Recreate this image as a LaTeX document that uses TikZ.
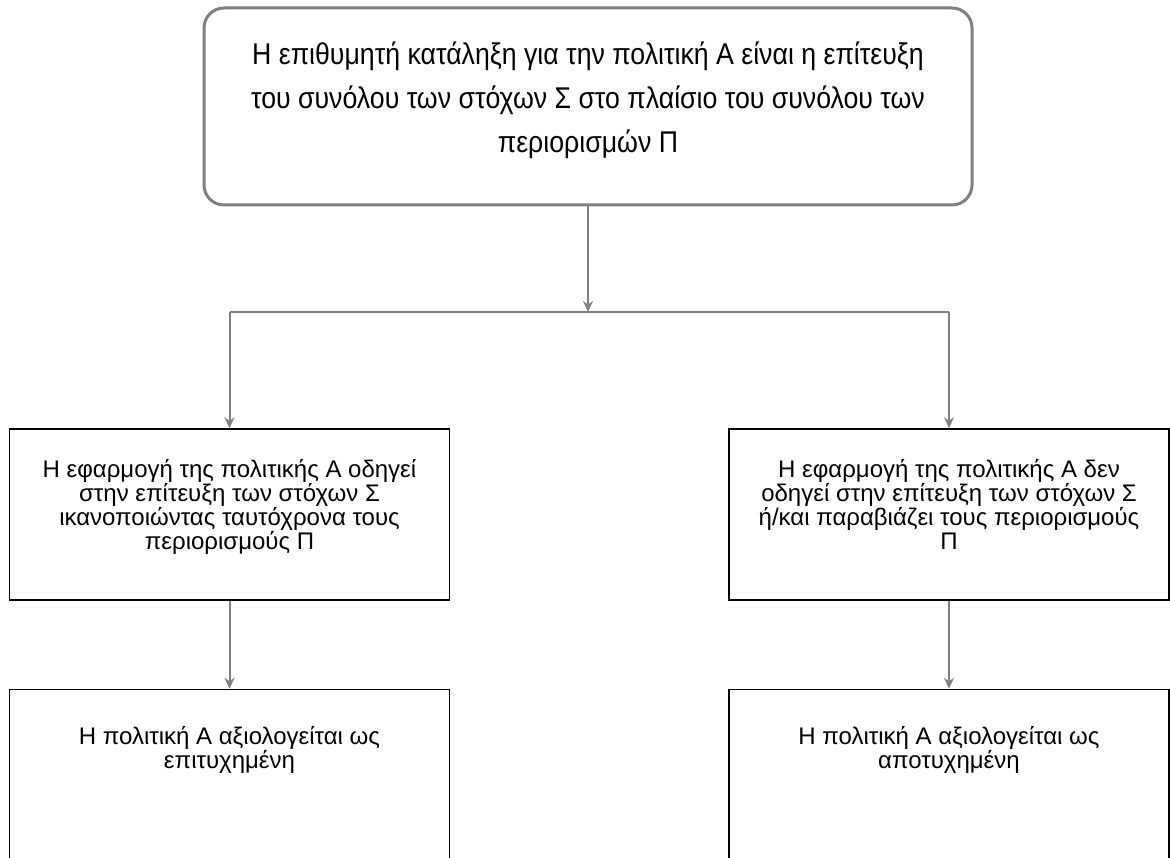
\documentclass[tikz,border=0pt]{standalone}
\usepackage{fontspec}
\setmainfont{Liberation Sans}
\newfontfamily\narrowsans[FakeStretch=0.89]{Liberation Sans}
\usetikzlibrary{positioning, arrows.meta}
\tikzset{
  goalBox/.style={rectangle, rounded corners=20pt, draw=gray, line width=3pt, minimum width=768pt, minimum height=197pt, align=center, font=\narrowsans\fontsize{30}{44}\selectfont, text depth=18pt, inner sep=0pt},
  caseBox/.style={rectangle, draw=black, line width=1.5pt, minimum width=440pt, minimum height=171pt, align=center, font=\fontsize{24}{24}\selectfont, text depth=20pt, inner sep=0pt},
  evalBox/.style={rectangle, draw=black, line width=1.5pt, minimum width=440pt, minimum height=260pt},
  evalText/.style={align=center, font=\fontsize{24}{24}\selectfont, inner sep=0pt},
  linkArr/.style={draw=gray, line width=2pt, -{Stealth[length=11pt,width=10pt]}},
}
\begin{document}
\begin{tikzpicture}[x=1pt, y=-1pt]
\useasboundingbox (0,0) rectangle (1170,858);
\clip (0,0) rectangle (1170,858);

\node (goal) [goalBox] at (588,106.5) {Η επιθυμητή κατάληξη για την πολιτική Α είναι η επίτευξη\\του συνόλου των στόχων Σ στο πλαίσιο του συνόλου των\\περιορισμών Π};

% the two outcomes
\node (success) [caseBox] at (229.5,514.5) {Η εφαρμογή της πολιτικής Α οδηγεί\\στην επίτευξη των στόχων Σ\\ικανοποιώντας ταυτόχρονα τους\\περιορισμούς Π};
\node (failure) [caseBox] at (949,514.5) {Η εφαρμογή της πολιτικής Α δεν\\οδηγεί στην επίτευξη των στόχων Σ\\ή/και παραβιάζει τους περιορισμούς\\Π};

% evaluation (boxes run past the lower edge)
\node (passBox) [evalBox, below=88pt of success] {};
\node (failBox) [evalBox, below=88pt of failure] {};
\node (passText) [evalText, below=37pt of passBox.north] {Η πολιτική Α αξιολογείται ως\\επιτυχημένη};
\node (failText) [evalText, below=37pt of failBox.north] {Η πολιτική Α αξιολογείται ως\\αποτυχημένη};

\coordinate (fork) at (goal |- 0,312);
\coordinate (forkL) at (success |- fork);
\coordinate (forkR) at (failure |- fork);

\draw [linkArr] (goal) -- (fork);
\draw [draw=gray, line width=2pt] (forkL) -- (forkR);
\draw [linkArr] (forkL) -- (success);
\draw [linkArr] (forkR) -- (failure);
\draw [linkArr] (success) -- (passBox);
\draw [linkArr] (failure) -- (failBox);
\end{tikzpicture}
\end{document}
